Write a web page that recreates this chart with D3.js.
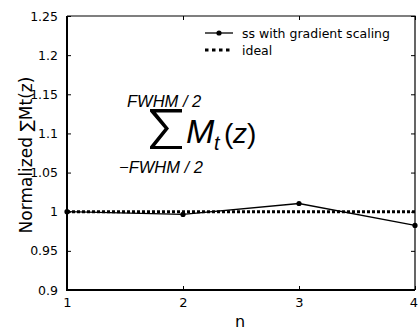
<!DOCTYPE html>
<html>
<head>
<meta charset="utf-8">
<script src="https://cdn.jsdelivr.net/npm/d3@7"></script>
<style>
  body { margin: 0; background: #fff; }
  svg text { font-family: "DejaVu Sans", Arial, sans-serif; fill: #000; }
</style>
</head>
<body>
<svg id="chart"></svg>
<script>
var nValues = [1, 2, 3, 4];
var ssValues = [1.0, 0.9965, 1.0105, 0.9825];
var idealValues = [1, 1, 1, 1];
var yTicks = [0.9, 0.95, 1, 1.05, 1.1, 1.15, 1.2, 1.25];
var legendLabels = ['ss with gradient scaling', 'ideal'];

(function () {
    var width = 418, height = 331;
    var m = {top: 16, right: 3, bottom: 41, left: 67};
    var innerW = width - m.left - m.right, innerH = height - m.top - m.bottom;

    var svg = d3.select('#chart').attr('width', width).attr('height', height);
    var g = svg.append('g').attr('transform', 'translate(' + m.left + ',' + m.top + ')');

    var x = d3.scaleLinear().domain([1, 4]).range([0, innerW]);
    var y = d3.scaleLinear().domain([0.9, 1.25]).range([innerH, 0]);

    // axes, ticks pointing inward
    var xAxis = g.append('g').attr('transform', 'translate(0,' + innerH + ')')
        .call(d3.axisBottom(x).tickValues(nValues).tickFormat(d3.format('d')).tickSizeInner(-4).tickSizeOuter(0).tickPadding(8));
    var yAxis = g.append('g')
        .call(d3.axisLeft(y).tickValues(yTicks).tickFormat(function (d) { return String(+d.toFixed(2)); }).tickSizeInner(-4).tickSizeOuter(0).tickPadding(9));
    g.append('g').call(d3.axisTop(x).tickValues(nValues).tickFormat('').tickSizeInner(-4).tickSizeOuter(0));
    g.append('g').attr('transform', 'translate(' + innerW + ',0)')
        .call(d3.axisRight(y).tickValues(yTicks).tickFormat('').tickSizeInner(-4).tickSizeOuter(0));
    g.selectAll('.domain').remove();
    g.selectAll('.tick line').attr('stroke', '#000');
    xAxis.selectAll('text').attr('font-size', 13).attr('font-family', '"DejaVu Sans", sans-serif');
    // last label sits against the window edge, as in the picture
    xAxis.selectAll('.tick').filter(function (d) { return d === 4; }).select('text').attr('dx', -1.5);
    yAxis.selectAll('text').attr('font-size', 12.5).attr('font-family', '"DejaVu Sans", sans-serif');

    // frame: heavier left/bottom
    g.append('path').attr('d', 'M0,0H' + innerW + 'V' + innerH)
        .attr('fill', 'none').attr('stroke', '#000').attr('stroke-width', 1.2);
    g.append('path').attr('d', 'M0,0V' + innerH + 'H' + innerW)
        .attr('fill', 'none').attr('stroke', '#000').attr('stroke-width', 2);

    // axis titles
    g.append('text').attr('x', 240 - m.left).attr('y', 327 - m.top)
        .attr('text-anchor', 'middle').attr('font-size', 16).text('n');
    g.append('text').attr('transform', 'translate(' + (32 - m.left) + ',' + (155 - m.top) + ') rotate(-90)')
        .attr('text-anchor', 'middle').attr('font-size', 17).text('Normalized \u2211Mt(z)');

    var line = d3.line().x(function (d, i) { return x(nValues[i]); }).y(function (d) { return y(d); });

    g.append('path').datum(ssValues).attr('d', line)
        .attr('fill', 'none').attr('stroke', '#000').attr('stroke-width', 1.3);
    g.selectAll('.pt').data(ssValues).enter().append('circle')
        .attr('cx', function (d, i) { return x(nValues[i]); }).attr('cy', function (d) { return y(d); })
        .attr('r', 2.6).attr('fill', '#000');
    g.append('path').datum(idealValues).attr('d', line)
        .attr('fill', 'none').attr('stroke', '#000').attr('stroke-width', 3).attr('stroke-dasharray', '3,2');

    // legend
    var lg = g.append('g').attr('transform', 'translate(' + (205 - m.left) + ',' + (33 - m.top) + ')');
    lg.append('line').attr('x1', 0).attr('x2', 28).attr('y1', 0).attr('y2', 0).attr('stroke', '#000').attr('stroke-width', 1.3);
    lg.append('circle').attr('cx', 14).attr('cy', 0).attr('r', 2.6).attr('fill', '#000');
    lg.append('line').attr('x1', 0).attr('x2', 28).attr('y1', 17).attr('y2', 17).attr('stroke', '#000')
        .attr('stroke-width', 3).attr('stroke-dasharray', '3.5,3.5');
    lg.selectAll('.lt').data(legendLabels).enter().append('text')
        .attr('x', 37).attr('y', function (d, i) { return i * 17 + 4.5; })
        .attr('font-size', 12.5).text(function (d) { return d; });

    // formula annotation (picture coords)
    var f = svg.append('g');
    function ft(xp, yp, size, str, upright) {
        return f.append('text').attr('x', xp).attr('y', yp).attr('font-size', size)
            .attr('font-style', upright ? 'normal' : 'italic')
            .style('font-family', '"Liberation Sans", Arial, sans-serif').text(str);
    }
    ft(127, 107, 16.5, 'FWHM / 2');
    // summation sign
    f.append('path')
        .attr('transform', 'translate(150,109)')
        .attr('d', 'M0,0H32V3.5H6L19,19.5L5,37H32V40H0V37.5L14.5,19.5L0,2.5Z')
        .attr('fill', '#000');
    ft(186, 143, 34, 'M');
    ft(214, 150, 20, 't');
    ft(224, 143, 28, '(', true);
    ft(233, 143, 28, 'z');
    ft(247, 143, 28, ')', true);
    ft(119, 173, 16.5, '\u2212FWHM / 2');
})();
</script>
</body>
</html>
